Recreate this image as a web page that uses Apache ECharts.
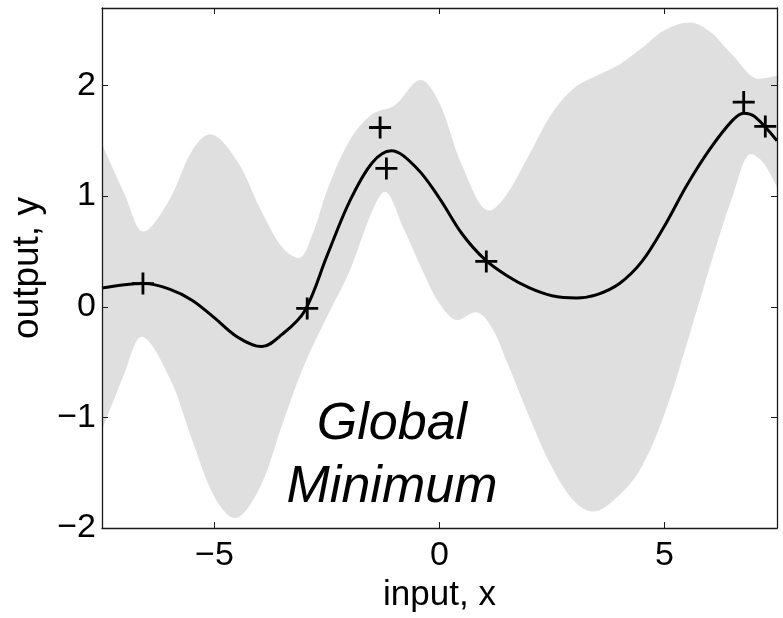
<!DOCTYPE html>
<html>
<head>
<meta charset="utf-8">
<script src="https://cdn.jsdelivr.net/npm/echarts@6/dist/echarts.min.js"></script>
<style>
  html, body { margin: 0; padding: 0; background: #fff; }
  #chart { width: 783px; height: 618px; }
</style>
</head>
<body>
<div id="chart"></div>
<script>
// Posterior mean of the regression model
const meanX = [-7.5, -7.0, -6.56, -6.0, -5.5, -5.0, -4.5, -3.95, -3.5, -3.0, -2.5, -2.0, -1.5, -1.07, -0.5, 0.0, 0.5, 1.0, 1.5, 2.0, 2.5, 3.04, 3.5, 4.0, 4.5, 5.0, 5.5, 6.0, 6.5, 6.76, 7.0, 7.5];
const meanY = [0.17, 0.20, 0.21, 0.16, 0.06, -0.10, -0.27, -0.36, -0.25, -0.04, 0.46, 0.95, 1.30, 1.41, 1.25, 0.98, 0.66, 0.43, 0.28, 0.17, 0.10, 0.08, 0.11, 0.21, 0.41, 0.73, 1.10, 1.42, 1.68, 1.75, 1.72, 1.50];

// Upper edge of the confidence band
const upperX = [-7.5, -7.0, -6.58, -6.0, -5.5, -5.1, -4.5, -4.0, -3.5, -3.13, -2.8, -2.5, -2.0, -1.5, -1.0, -0.42, 0.0, 0.5, 1.11, 1.5, 2.0, 2.5, 3.0, 3.5, 4.0, 4.5, 5.0, 5.56, 6.0, 6.5, 7.1, 7.5];
const upperY = [1.47, 1.02, 0.68, 0.97, 1.41, 1.56, 1.32, 0.90, 0.54, 0.44, 0.68, 1.05, 1.50, 1.74, 1.82, 2.05, 1.84, 1.28, 0.87, 1.02, 1.38, 1.75, 1.98, 2.09, 2.19, 2.34, 2.50, 2.57, 2.49, 2.28, 2.06, 2.09];

// Lower edge of the confidence band
const lowerX = [-7.5, -7.0, -6.62, -6.0, -5.5, -5.0, -4.55, -4.0, -3.5, -3.0, -2.5, -2.0, -1.5, -1.22, -0.8, -0.3, 0.0, 0.4, 0.8, 1.15, 1.5, 2.0, 2.5, 3.0, 3.41, 4.0, 4.5, 5.0, 5.5, 6.0, 6.5, 6.93, 7.2, 7.5];
const lowerY = [-1.12, -0.60, -0.27, -0.64, -1.20, -1.72, -1.91, -1.64, -1.07, -0.52, -0.09, 0.32, 0.86, 1.04, 0.71, 0.26, 0.03, -0.12, -0.05, -0.18, -0.50, -1.0, -1.45, -1.76, -1.85, -1.70, -1.44, -0.97, -0.33, 0.35, 0.98, 1.38, 1.30, 1.08];

// Observed samples
const obsX = [-6.59, -2.94, -1.32, -1.18, 1.04, 6.76, 7.24];
const obsY = [0.21, -0.015, 1.62, 1.25, 0.41, 1.85, 1.63];

// Tick labels
const xTicks = [-5, 0, 5];
const yTicks = [-2, -1, 0, 1, 2];

const zip = (xs, ys) => xs.map((x, i) => [x, ys[i]]);
const fmt = v => (v < 0 ? '\u2212' + Math.abs(v) : String(v));

const FONT = '"Liberation Sans", Arial, Helvetica, sans-serif';
const AXIS_COLOR = '#1a1a1a';
const BAND = '#dfdfdf';
const SMOOTH = 0.35;

// Filled cross used for the sample markers
const PLUS = 'path://M9.6,0 H12.4 V9.6 H22 V12.4 H12.4 V22 H9.6 V12.4 H0 V9.6 H9.6 Z';

const chart = echarts.init(document.getElementById('chart'), null, { renderer: 'canvas' });

const baseLine = { lineStyle: { color: AXIS_COLOR, width: 1.3 } };
const tickIn = (vals) => ({ show: true, inside: true, length: 6, customValues: vals, lineStyle: { color: AXIS_COLOR, width: 1 } });

chart.setOption({
  animation: false,
  backgroundColor: '#fff',
  grid: { left: 102, right: 6, top: 8, bottom: 78, containLabel: false },
  xAxis: [
    {
      type: 'value', min: -7.5, max: 7.5, position: 'bottom', z: 10,
      axisLine: Object.assign({ show: true, onZero: false }, baseLine),
      axisTick: tickIn(xTicks),
      splitLine: { show: false },
      axisLabel: { customValues: xTicks, formatter: fmt, color: '#000', fontSize: 34, fontFamily: FONT, margin: 11 },
      name: 'input, x', nameLocation: 'middle', nameGap: 43,
      nameTextStyle: { color: '#000', fontSize: 35, fontFamily: FONT }
    },
    {
      type: 'value', min: -7.5, max: 7.5, position: 'top', z: 10,
      axisLine: Object.assign({ show: true, onZero: false }, baseLine),
      axisTick: tickIn(xTicks),
      splitLine: { show: false },
      axisLabel: { show: false }
    }
  ],
  yAxis: [
    {
      type: 'value', min: -2, max: 2.7, position: 'left', z: 10,
      axisLine: Object.assign({ show: true, onZero: false }, baseLine),
      axisTick: tickIn(yTicks),
      splitLine: { show: false },
      axisLabel: { customValues: yTicks, formatter: fmt, color: '#000', fontSize: 34, fontFamily: FONT, margin: 6 },
      name: 'output, y', nameLocation: 'middle', nameGap: 54, nameRotate: 90,
      nameTextStyle: { color: '#000', fontSize: 37, fontFamily: FONT }
    },
    {
      type: 'value', min: -2, max: 2.7, position: 'right', z: 10,
      axisLine: Object.assign({ show: true, onZero: false }, baseLine),
      axisTick: tickIn(yTicks),
      splitLine: { show: false },
      axisLabel: { show: false }
    }
  ],
  series: [
    {
      // grey fill from the upper edge down to the axis floor
      name: 'upper', type: 'line', data: zip(upperX, upperY),
      smooth: SMOOTH, symbol: 'none', z: 1,
      lineStyle: { width: 0, color: BAND },
      areaStyle: { color: BAND, opacity: 1, origin: 'start' }
    },
    {
      // white fill below the lower edge clears the grey underneath
      name: 'lower', type: 'line', data: zip(lowerX, lowerY),
      smooth: SMOOTH, symbol: 'none', z: 2,
      lineStyle: { width: 0, color: '#fff' },
      areaStyle: { color: '#fff', opacity: 1, origin: 'start' }
    },
    {
      name: 'mean', type: 'line', data: zip(meanX, meanY),
      smooth: SMOOTH, symbol: 'none', z: 3,
      lineStyle: { color: '#000', width: 3 }
    },
    {
      name: 'samples', type: 'scatter', data: zip(obsX, obsY),
      symbol: PLUS, symbolSize: 22, symbolKeepAspect: true, z: 4,
      itemStyle: { color: '#000', opacity: 1 }
    }
  ],
  graphic: [
    {
      type: 'text', x: 392, y: 451, z: 20,
      style: { text: 'Global', fill: '#000', font: 'italic 52px ' + FONT, textAlign: 'center', textVerticalAlign: 'bottom' }
    },
    {
      type: 'text', x: 392, y: 514, z: 20,
      style: { text: 'Minimum', fill: '#000', font: 'italic 52px ' + FONT, textAlign: 'center', textVerticalAlign: 'bottom' }
    }
  ]
});
</script>
</body>
</html>
